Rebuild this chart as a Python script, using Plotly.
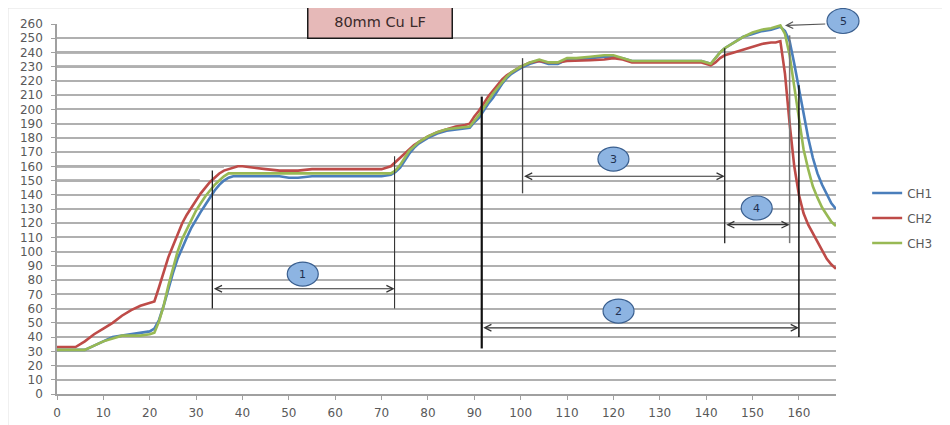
import plotly.graph_objects as go

# ---------------- data ----------------
x_vals = [0, 2, 4, 6, 8, 10, 12, 14, 16, 18, 20, 21, 22, 23, 24, 25, 26, 27, 28, 29,
          30, 31, 32, 33, 34, 35, 36, 37, 38, 39, 40, 42, 45, 48, 50, 52, 55, 58, 60, 65,
          70, 72, 73, 74, 75, 76, 77, 78, 80, 82, 84, 86, 88, 89, 90, 91, 92, 93, 94, 95,
          96, 97, 98, 99, 100, 102, 104, 106, 108, 110, 112, 115, 118, 120, 122, 124, 126, 128, 130, 135,
          139, 141, 142, 143, 144, 146, 148, 150, 152, 154, 155, 156, 157, 158, 159, 160, 161, 162, 163, 164,
          165, 166, 167, 168]

ch1 = [31, 31, 31, 31, 34, 37, 40, 41, 42, 43, 44, 46, 52, 62, 74, 85, 95, 103, 110, 117,
       123, 128, 133, 138, 143, 147, 150, 152, 153, 153, 153, 153, 153, 153, 152, 152, 153, 153, 153, 153,
       153, 154, 156, 159, 164, 169, 173, 176, 180, 183, 185, 186, 187, 187, 191, 194, 199, 204, 208, 213,
       218, 222, 225, 227, 229, 232, 234, 232, 232, 235, 235, 236, 237, 237, 236, 234, 234, 234, 234, 234,
       234, 232, 236, 240, 243, 247, 251, 253, 255, 256, 257, 258, 255, 248, 232, 214, 196, 180, 166, 155,
       147, 140, 134, 130]

ch2 = [33, 33, 33, 37, 42, 46, 50, 55, 59, 62, 64, 65, 75, 86, 96, 104, 112, 120, 126, 131,
       136, 141, 145, 149, 152, 155, 157, 158, 159.5, 160, 160, 159, 158, 157, 157, 157, 158, 158, 158, 158,
       158, 160, 163, 166, 169, 172, 175, 177, 181, 184, 186, 188, 189, 190, 195, 199, 204, 209, 213, 217,
       221, 224, 226, 228, 230, 233, 234, 233, 233, 234, 234, 234.5, 235, 236, 235, 233, 233, 233, 233, 233,
       233, 231, 233, 236, 238, 240, 242, 244, 246, 247, 247, 248, 225, 190, 160, 140, 127, 119, 113, 108,
       101, 95, 91, 88]

ch3 = [31, 31, 31, 31, 34, 37, 39, 41, 41, 41, 42, 43, 51, 62, 76, 89, 100, 109, 116, 123,
       129, 134, 139, 143, 147, 150, 153, 155, 155, 155, 155, 155, 155, 155, 155, 155, 155, 155, 155, 155,
       155, 155, 157, 161, 166, 171, 174, 177, 181, 184, 186, 187, 188, 188, 192, 196, 201, 206, 211, 215,
       219, 223, 226, 228, 230, 233, 235, 233, 233, 236, 236, 237, 238, 238, 236, 234, 234, 234, 234, 234,
       234, 232, 236, 240, 243, 247, 251, 254, 256, 257, 258, 259, 253, 238, 216, 194, 172, 158, 146, 138,
       131, 126, 121, 118]

series_names = ["CH1", "CH2", "CH3"]
series_colors = ["#4a7ebb", "#be4b48", "#98b954"]

x_ticks = list(range(0, 161, 10))
y_ticks = list(range(0, 261, 10))

title_text = "80mm Cu LF"

# emphasised horizontal reference lines: (y, x_end)
h_refs = [(240, 111.2), (230, 100.4), (160, 36), (150, 30.8)]
# vertical marker lines: (x, y_bottom, y_top, width, color)
v_refs = [(33.5, 60, 157, 1.3, "#222"), (72.8, 60, 167, 1.1, "#333"),
          (91.6, 32, 209, 2.2, "#111"), (160, 40, 217, 1.5, "#111"),
          (100.4, 141, 236, 1.3, "#444"), (144, 106, 243, 1.3, "#222"),
          (158, 106, 252, 1.5, "#777")]
# double arrows: (x_start, x_end, y)
arrows = [(33.5, 72.8, 74), (91.6, 160, 46.5), (100.4, 144, 153), (144, 158, 119)]
# numbered bubbles: (label, x, y)
bubbles = [("1", 53.0, 84.3), ("2", 121.1, 58.3), ("3", 120.0, 165.1), ("4", 150.9, 130.7)]

# ---------------- figure ----------------
fig = go.Figure()
for i, (name, ys, col) in enumerate(zip(series_names, [ch1, ch2, ch3], series_colors)):
    fig.add_trace(go.Scatter(x=x_vals, y=ys, mode="lines", name=name,
                             legendgroup=name,
                             line=dict(color=col, width=2.6)))

PW, PH = 779.0, 370.0
shapes = []
for y, xe in h_refs:
    shapes.append(dict(type="line", xref="x", yref="y", x0=0, x1=xe, y0=y, y1=y,
                       line=dict(color="#707070", width=2.2), layer="below"))
for x, yb, yt, w, c in v_refs:
    shapes.append(dict(type="line", xref="x", yref="y", x0=x, x1=x, y0=yb, y1=yt,
                       line=dict(color=c, width=w)))

px_per_x = PW / 168.0
px_per_y = PH / 260.0
bw, bh = 31, 24
for lab, bx, by in bubbles:
    shapes.append(dict(type="circle", xref="x", yref="y",
                       x0=bx - bw / 2 / px_per_x, x1=bx + bw / 2 / px_per_x,
                       y0=by - bh / 2 / px_per_y, y1=by + bh / 2 / px_per_y,
                       fillcolor="#8db4e2", line=dict(color="#3a5f8f", width=1.2)))
# bubble 5 sits outside the plot area (paper coordinates)
b5x, b5y = 1 + 7 / PW, 1 + 3 / PH
shapes.append(dict(type="circle", xref="paper", yref="paper",
                   x0=b5x - 16 / PW, x1=b5x + 16 / PW, y0=b5y - 12.5 / PH, y1=b5y + 12.5 / PH,
                   fillcolor="#8db4e2", line=dict(color="#3a5f8f", width=1.2)))
# faint outer frame
shapes.append(dict(type="rect", xref="paper", yref="paper", x0=-49 / PW, x1=1.2, y0=-0.2, y1=1 + 16 / PH,
                   line=dict(color="#e2e2e2", width=1), layer="below"))

annotations = []
for xs, xe, y in arrows:
    annotations.append(dict(x=xe, y=y, ax=xs, ay=y, xref="x", yref="y", axref="x", ayref="y",
                            text="", showarrow=True, arrowhead=5, startarrowhead=5,
                            arrowside="end+start", arrowsize=1.2, arrowwidth=1.1,
                            arrowcolor="#333", standoff=0, startstandoff=0))
for lab, bx, by in bubbles:
    annotations.append(dict(x=bx, y=by, xref="x", yref="y", text=lab, showarrow=False,
                            font=dict(size=11, color="#1f3050", family="DejaVu Sans")))
annotations.append(dict(x=b5x, y=b5y, xref="paper", yref="paper", text="5", showarrow=False,
                        xanchor="center", yanchor="middle",
                        font=dict(size=11, color="#1f3050", family="DejaVu Sans")))
annotations.append(dict(x=157, y=259, ax=166, ay=260, xref="x", yref="y", axref="x", ayref="y",
                        text="", showarrow=True, arrowhead=5, arrowsize=1.2, arrowwidth=1.1,
                        arrowcolor="#555", standoff=0))
annotations.append(dict(x=(380 - 57) / PW, y=1 + 1.5 / PH, xref="paper", yref="paper", text=title_text,
                        showarrow=False, xanchor="center", yanchor="middle",
                        bgcolor="#e6b9b8", bordercolor="#1a1a1a", borderwidth=1.5,
                        width=141, height=29, font=dict(size=14.5, color="#3a2a2a", family="DejaVu Sans")))

fig.update_layout(
    width=942, height=417,
    margin=dict(l=49, r=114, t=16, b=31, autoexpand=False),
    paper_bgcolor="white", plot_bgcolor="white",
    font=dict(family="DejaVu Sans", color="#595959", size=12),
    showlegend=True,
    legend=dict(x=1.04, y=(386 - 210) / PH, xanchor="left", yanchor="middle",
                traceorder="grouped", tracegroupgap=6,
                font=dict(size=12, color="#595959"), itemwidth=30,
                bgcolor="rgba(0,0,0,0)"),
    shapes=shapes,
    annotations=annotations,
)
fig.update_xaxes(range=[0, 168], tickvals=x_ticks, showgrid=False, zeroline=False, automargin=False,
                 showline=True, linecolor="#a0a0a0", linewidth=1.5,
                 ticks="outside", ticklen=4, tickcolor="#a0a0a0", ticklabelstandoff=3,
                 tickfont=dict(size=12, color="#595959"))
fig.update_yaxes(range=[0, 260], tickvals=y_ticks, showgrid=True, gridcolor="#b0b0b0", gridwidth=1.6,
                 zeroline=False, showline=True, linecolor="#a0a0a0", linewidth=1.5, automargin=False,
                 ticks="outside", ticklen=4, tickcolor="#a0a0a0", ticklabelstandoff=6,
                 tickfont=dict(size=12, color="#595959"))

fig.write_html("out.html")
